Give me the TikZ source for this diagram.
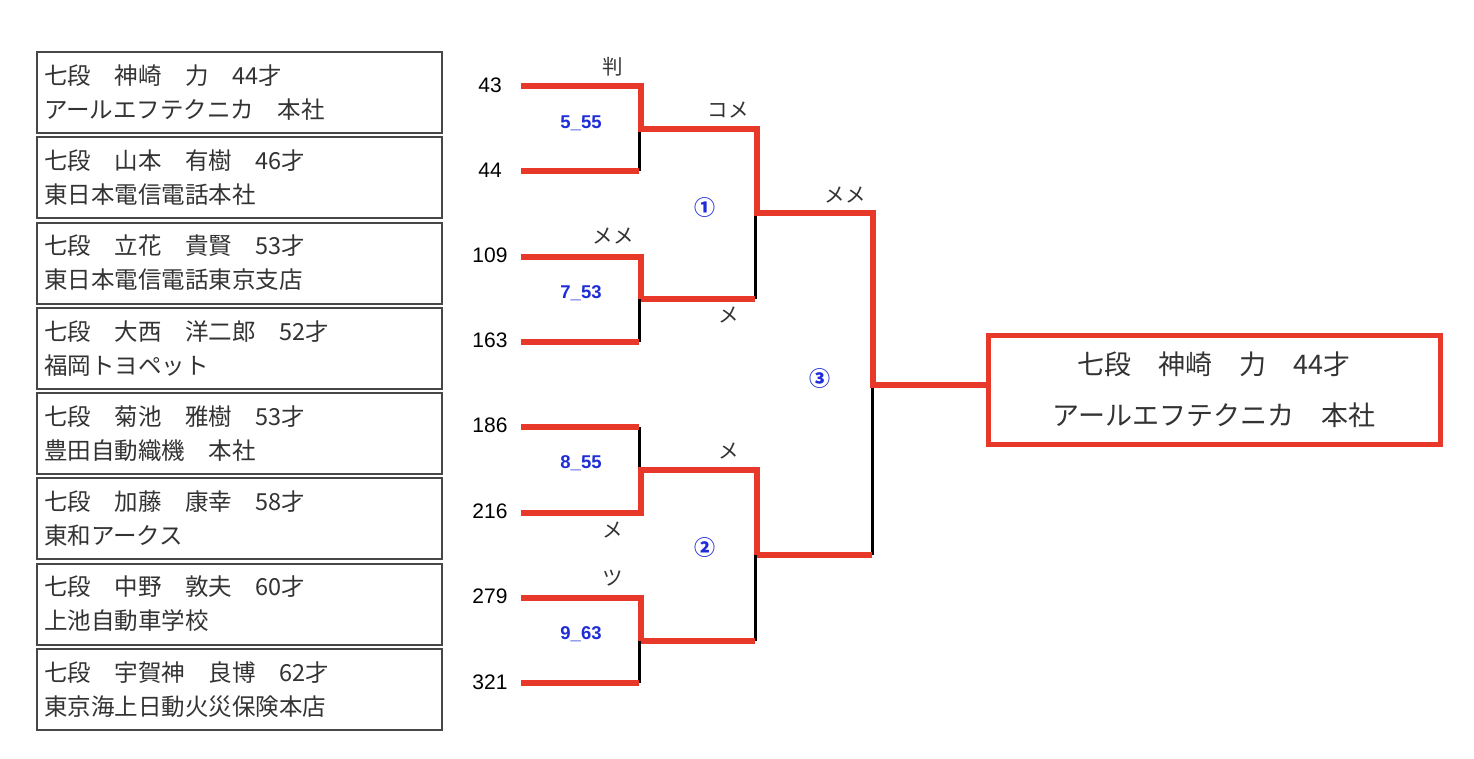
\documentclass[tikz,border=0pt]{standalone}
\usepackage{fontspec}
\setmainfont{Liberation Sans}
\newfontfamily\jp{Noto Sans CJK JP}
\definecolor{bred}{RGB}{232,56,42}
\definecolor{bblue}{RGB}{30,45,215}
\definecolor{ink}{RGB}{51,51,51}
\begin{document}
\begin{tikzpicture}[x=1pt,y=-1pt,
  entrybox/.style={draw=ink!90,line width=2pt,minimum width=405pt,minimum height=81pt,inner sep=0pt},
  entrytext/.style={anchor=west,inner sep=0pt,text=ink,font=\jp\fontsize{23.5}{27}\selectfont},
  seednum/.style={inner sep=0pt,text=black,font=\fontsize{21}{24}\selectfont},
  score/.style={inner sep=0pt,text=bblue,font=\bfseries\fontsize{18.5}{22}\selectfont},
  waza/.style={inner sep=0pt,text=ink,font=\jp\fontsize{20.5}{24}\selectfont},
  roundno/.style={inner sep=0pt,text=bblue,font=\jp\bfseries\fontsize{21}{24}\selectfont},
  champbox/.style={draw=bred,line width=5pt,minimum width=452pt,minimum height=109pt,align=center,text=ink,font=\jp\fontsize{27}{51}\selectfont},
  win/.style={draw=bred,line width=6pt,line join=miter},
  lose/.style={draw=black,line width=3pt}]
\useasboundingbox (0,0) rectangle (1474,758);
\fill[white] (0,0) rectangle (1474,758);

% entry boxes
\foreach \i/\a/\b in {
  1/{七段　神崎　力　44才}/{アールエフテクニカ　本社},
  2/{七段　山本　有樹　46才}/{東日本電信電話本社},
  3/{七段　立花　貴賢　53才}/{東日本電信電話東京支店},
  4/{七段　大西　洋二郎　52才}/{福岡トヨペット},
  5/{七段　菊池　雅樹　53才}/{豊田自動織機　本社},
  6/{七段　加藤　康幸　58才}/{東和アークス},
  7/{七段　中野　敦夫　60才}/{上池自動車学校},
  8/{七段　宇賀神　良博　62才}/{東京海上日動火災保険本店}}{
  \pgfmathsetmacro\t{52+85.25*(\i-1)}
  \node[entrybox] (p\i) at (239.5,\t+40.5) {};
  \node[entrytext] (pa\i) at (44,\t+23.5) {\a};
  \node[entrytext] (pb\i) at (44,\t+57.5) {\b};
}

% seed numbers
\node[seednum] (n1) at (490,85) {43};
\node[seednum] (n2) at (490,170) {44};
\node[seednum] (n3) at (490,255) {109};
\node[seednum] (n4) at (490,340) {163};
\node[seednum] (n5) at (490,425) {186};
\node[seednum] (n6) at (490,511) {216};
\node[seednum] (n7) at (490,596) {279};
\node[seednum] (n8) at (490,682) {321};

% bracket coordinates
\coordinate (s1) at (521,86);
\coordinate (s2) at (521,171);
\coordinate (s3) at (521,256.5);
\coordinate (s4) at (521,341.5);
\coordinate (s5) at (521,427);
\coordinate (s6) at (521,512.5);
\coordinate (s7) at (521,598);
\coordinate (s8) at (521,683);
\coordinate (a1) at (641,86);   \coordinate (am) at (641,129); \coordinate (a2) at (639,171);
\coordinate (b1) at (641,256.5);\coordinate (bm) at (641,299); \coordinate (b2) at (639,341.5);
\coordinate (c1) at (639,427);  \coordinate (cm) at (641,470); \coordinate (c2) at (641,512.5);
\coordinate (d1) at (641,598);  \coordinate (dm) at (641,641); \coordinate (d2) at (639,683);
\coordinate (e1) at (757,129);  \coordinate (em) at (757,213); \coordinate (e2) at (755,299);
\coordinate (f1) at (757,470);  \coordinate (fm) at (757,555); \coordinate (f2) at (755,641);
\coordinate (g1) at (873,213);  \coordinate (gm) at (873,385); \coordinate (g2) at (872,555);

% champion box
\node[champbox] (champ) at (1214,389.5) {七段　神崎　力　44才\\アールエフテクニカ　本社};

% losing (black) verticals
\draw[lose] (a2 |- am) -- (a2);
\draw[lose] (b2 |- bm) -- (b2);
\draw[lose] (c1) -- (c1 |- cm);
\draw[lose] (d2 |- dm) -- (d2);
\draw[lose] (e2 |- em) -- (e2);
\draw[lose] (f2 |- fm) -- (f2);
\draw[lose] (g2 |- gm) -- (g2);

% red lines
\draw[win] (s2) -- (a2);
\draw[win] (s4) -- (b2);
\draw[win] (s5) -- (c1);
\draw[win] (s8) -- (d2);
\draw[win] (bm) -- (e2);
\draw[win] (dm) -- (f2);
\draw[win] (fm) -- (g2);
\draw[win] (s3) -- (b1) -- (bm);
\draw[win] (s7) -- (d1) -- (dm);
\draw[win] (s6) -- (c2) -- (cm) -- (f1) -- (fm);
\draw[win] (s1) -- (a1) -- (am) -- (e1) -- (em) -- (g1) -- (gm) -- (champ.west |- gm);

% match labels
\node[waza] (w1) at (613,67) {判};
\node[score] (m1) at (581,123) {5\_55};
\node[waza] (w2) at (728,110) {コメ};
\node[roundno] (r1) at (705,208) {①};
\node[waza] (w3) at (613,236) {メメ};
\node[score] (m2) at (581,293) {7\_53};
\node[waza] (w4) at (729,315) {メ};
\node[waza] (w5) at (845,195) {メメ};
\node[roundno] (r3) at (820,379) {③};
\node[score] (m3) at (581,463) {8\_55};
\node[waza] (w6) at (729,451) {メ};
\node[waza] (w7) at (613,530) {メ};
\node[waza] (w8) at (613,578) {ツ};
\node[roundno] (r2) at (705,548) {②};
\node[score] (m4) at (581,634) {9\_63};
\end{tikzpicture}
\end{document}
